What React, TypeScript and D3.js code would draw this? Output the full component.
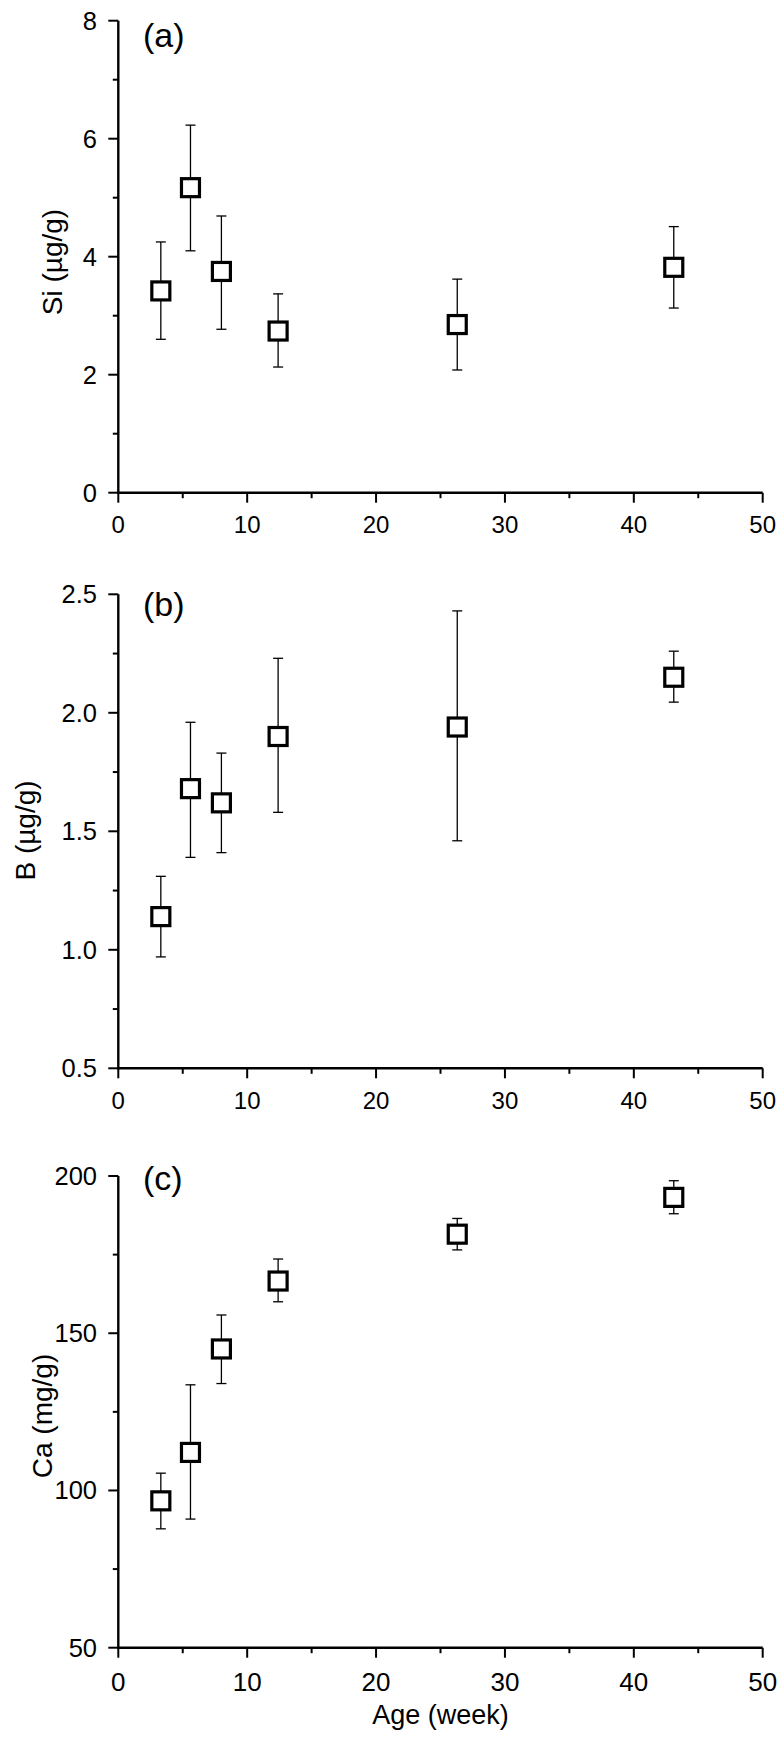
import React from "react";
import * as d3 from "d3";

const ages = [3.3, 5.6, 8.0, 12.4, 26.3, 43.1];
const xTicks = [0, 10, 20, 30, 40, 50];
const xMinor = [5, 15, 25, 35, 45];

const siMean = [3.42, 5.17, 3.75, 2.74, 2.85, 3.82];
const siHigh = [4.25, 6.23, 4.69, 3.37, 3.62, 4.51];
const siLow = [2.6, 4.1, 2.77, 2.13, 2.08, 3.13];
const siTicks = [0, 2, 4, 6, 8];
const siMinor = [1, 3, 5, 7];

const bMean = [1.14, 1.68, 1.62, 1.9, 1.94, 2.15];
const bHigh = [1.31, 1.96, 1.83, 2.23, 2.43, 2.26];
const bLow = [0.97, 1.39, 1.41, 1.58, 1.46, 2.045];
const bTicks = [0.5, 1.0, 1.5, 2.0, 2.5];
const bMinor = [0.75, 1.25, 1.75, 2.25];

const caMean = [96.7, 112.1, 145.0, 166.6, 181.5, 193.2];
const caHigh = [105.5, 133.6, 155.8, 173.6, 186.5, 198.5];
const caLow = [87.8, 90.9, 134.0, 160.0, 176.5, 188.0];
const caTicks = [50, 100, 150, 200];
const caMinor = [75, 125, 175];

const FONT = "'Liberation Sans', Arial, Helvetica, sans-serif";

const xScale = d3.scaleLinear().domain([0, 50]).range([118.3, 762.7]);

type PanelProps = {
  mean: number[];
  high: number[];
  low: number[];
  domain: [number, number];
  range: [number, number];
  ticks: number[];
  minor: number[];
  fmt: (d: number) => string;
  label: string;
  labelX: number;
  labelY: number;
  title: string;
  titleY: number;
  xFont: number;
};

function Panel(p: PanelProps) {
  const y = d3.scaleLinear().domain(p.domain).range(p.range);
  const x0 = xScale(0);
  const x1 = xScale(50);
  const yb = y(p.domain[0]);
  const yt = y(p.domain[1]);
  const box = 18;
  const cap = 5;
  return (
    <g>
      <line x1={x0} x2={x1} y1={yb} y2={yb} stroke="#000" strokeWidth={2.4} />
      <line x1={x0} x2={x0} y1={yb + 1.2} y2={yt} stroke="#000" strokeWidth={2.4} />
      {xTicks.map((t) => (
        <g key={"xt" + t}>
          <line x1={xScale(t)} x2={xScale(t)} y1={yb} y2={yb + 10} stroke="#000" strokeWidth={2} />
          <text
            x={xScale(t)}
            y={yb + (p.xFont > 24 ? 43 : 40.5)}
            textAnchor="middle"
            fontFamily={FONT}
            fontSize={p.xFont}
          >
            {t}
          </text>
        </g>
      ))}
      {xMinor.map((t) => (
        <line key={"xm" + t} x1={xScale(t)} x2={xScale(t)} y1={yb} y2={yb + 5.5} stroke="#000" strokeWidth={2} />
      ))}
      {p.ticks.map((t) => (
        <g key={"yt" + t}>
          <line x1={x0 - 10} x2={x0} y1={y(t)} y2={y(t)} stroke="#000" strokeWidth={2} />
          <text x={97} y={y(t) + 9} textAnchor="end" fontFamily={FONT} fontSize={25.5}>
            {p.fmt(t)}
          </text>
        </g>
      ))}
      {p.minor.map((t) => (
        <line key={"ym" + t} x1={x0 - 5.5} x2={x0} y1={y(t)} y2={y(t)} stroke="#000" strokeWidth={2} />
      ))}
      <text
        transform={`translate(${p.labelX},${p.labelY}) rotate(-90)`}
        textAnchor="middle"
        fontFamily={FONT}
        fontSize={28}
      >
        {p.label}
      </text>
      <text x={143} y={p.titleY} fontFamily={FONT} fontSize={34}>
        {p.title}
      </text>
      {ages.map((a, i) => (
        <g key={"e" + i} stroke="#000" strokeWidth={1.3}>
          <line x1={xScale(a)} x2={xScale(a)} y1={y(p.high[i])} y2={y(p.low[i])} />
          <line x1={xScale(a) - cap} x2={xScale(a) + cap} y1={y(p.high[i])} y2={y(p.high[i])} />
          <line x1={xScale(a) - cap} x2={xScale(a) + cap} y1={y(p.low[i])} y2={y(p.low[i])} />
        </g>
      ))}
      {ages.map((a, i) => (
        <rect
          key={"b" + i}
          x={xScale(a) - box / 2}
          y={y(p.mean[i]) - box / 2}
          width={box}
          height={box}
          fill="#fff"
          stroke="#000"
          strokeWidth={3.2}
        />
      ))}
    </g>
  );
}

export default function App() {
  return (
    <svg
      width={783}
      height={1737}
      style={{ position: "absolute", left: 0, top: 0, background: "#fff" }}
    >
      <rect width={783} height={1737} fill="#fff" />
      <Panel
        mean={siMean}
        high={siHigh}
        low={siLow}
        domain={[0, 8]}
        range={[492.7, 20.7]}
        ticks={siTicks}
        minor={siMinor}
        fmt={(d) => String(d)}
        label="Si (µg/g)"
        labelX={62}
        labelY={262}
        title="(a)"
        titleY={47}
        xFont={24}
      />
      <Panel
        mean={bMean}
        high={bHigh}
        low={bLow}
        domain={[0.5, 2.5]}
        range={[1068.3, 594.3]}
        ticks={bTicks}
        minor={bMinor}
        fmt={(d) => d.toFixed(1)}
        label="B (µg/g)"
        labelX={35}
        labelY={830.5}
        title="(b)"
        titleY={616}
        xFont={24}
      />
      <Panel
        mean={caMean}
        high={caHigh}
        low={caLow}
        domain={[50, 200]}
        range={[1647.7, 1176]}
        ticks={caTicks}
        minor={caMinor}
        fmt={(d) => String(d)}
        label="Ca (mg/g)"
        labelX={52}
        labelY={1416}
        title="(c)"
        titleY={1189.5}
        xFont={26}
      />
      <text x={440.5} y={1724} textAnchor="middle" fontFamily={FONT} fontSize={27}>
        Age (week)
      </text>
    </svg>
  );
}
